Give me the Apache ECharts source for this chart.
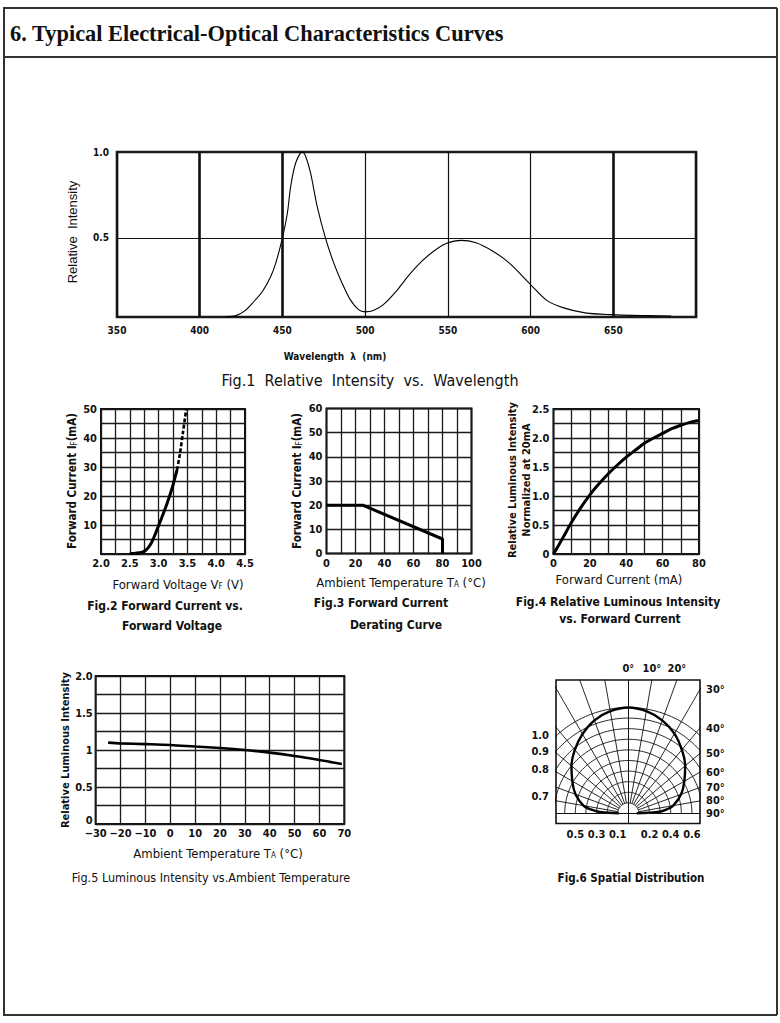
<!DOCTYPE html>
<html><head><meta charset="utf-8">
<script src="https://cdn.jsdelivr.net/npm/echarts@6/dist/echarts.min.js"></script>
<style>html,body{margin:0;padding:0;background:#fff}#c{width:780px;height:1023px}</style>
</head><body><div id="c"></div>
<script>
// ---------- Fig.1 Relative Intensity vs. Wavelength ----------
const fig1Wavelength = [415, 422, 427, 432, 438, 443, 446, 450, 453, 455, 458, 462, 464, 467, 471, 476, 481, 486, 491, 496, 500, 505, 511, 519, 526, 534, 542, 549, 558, 567, 577, 587, 600, 610, 620, 633, 648, 671, 685];
const fig1Intensity  = [0.04, 0.048, 0.074, 0.122, 0.19, 0.277, 0.355, 0.5, 0.645, 0.80, 0.936, 1.0, 0.975, 0.878, 0.684, 0.5, 0.355, 0.238, 0.141, 0.083, 0.07, 0.078, 0.112, 0.192, 0.278, 0.362, 0.427, 0.468, 0.486, 0.472, 0.424, 0.355, 0.229, 0.135, 0.093, 0.064, 0.054, 0.048, 0.046];
const fig1XTicks = [350, 400, 450, 500, 550, 600, 650];
const fig1YTicks = [0.5, 1.0];
const fig1BoldLines = [400, 450, 650];

// ---------- Fig.2 Forward Current vs. Forward Voltage ----------
const fig2VoltSolid = [2.5, 2.6, 2.7, 2.75, 2.8, 2.85, 2.9, 2.95, 3.0, 3.05, 3.1, 3.15, 3.2, 3.25, 3.32];
const fig2CurrSolid = [0.2, 0.3, 0.5, 0.9, 1.7, 3.0, 4.9, 7.3, 9.8, 12.3, 14.9, 17.6, 20.5, 23.8, 29.0];
const fig2VoltDash  = [3.32, 3.37, 3.42, 3.48];
const fig2CurrDash  = [29.0, 34.5, 41.5, 50];
const fig2XTicks = [2.0, 2.5, 3.0, 3.5, 4.0, 4.5];
const fig2YTicks = [10, 20, 30, 40, 50];

// ---------- Fig.3 Forward Current Derating Curve ----------
const fig3Temp = [0, 25, 80, 80];
const fig3Curr = [20, 20, 6, 0];
const fig3XTicks = [0, 20, 40, 60, 80, 100];
const fig3YTicks = [0, 10, 20, 30, 40, 50, 60];

// ---------- Fig.4 Relative Luminous Intensity vs. Forward Current ----------
const fig4Curr = [0, 5, 10, 15, 20, 25, 30, 35, 40, 45, 50, 55, 60, 65, 70, 75, 80];
const fig4Lum  = [0, 0.27, 0.55, 0.80, 1.02, 1.21, 1.38, 1.53, 1.67, 1.79, 1.91, 2.0, 2.08, 2.16, 2.22, 2.27, 2.30];
const fig4XTicks = [0, 20, 40, 60, 80];
const fig4YTicks = [0, 0.5, 1.0, 1.5, 2.0, 2.5];

// ---------- Fig.5 Luminous Intensity vs. Ambient Temperature ----------
const fig5Temp = [-25, -20, -10, 0, 10, 20, 30, 40, 50, 60, 69];
const fig5Lum  = [1.10, 1.09, 1.08, 1.068, 1.047, 1.027, 1.0, 0.964, 0.919, 0.865, 0.81];
const fig5XTicks = [-30, -20, -10, 0, 10, 20, 30, 40, 50, 60, 70];
const fig5YTicks = [0, 0.5, 1, 1.5, 2];
const fig5YTickLabels = ['0', '0.5', '1', '1.5', '2.0'];

// ---------- Fig.6 Spatial Distribution (angle from axis in deg, relative intensity) ----------
const fig6Angle = [-88, -87, -84, -80, -70, -60, -50, -40, -30, -20, -10, 0, 10, 20, 30, 40, 50, 60, 70, 80, 84, 87, 88];
const fig6Int   = [0.09, 0.27, 0.35, 0.43, 0.53, 0.61, 0.70, 0.785, 0.865, 0.935, 0.98, 1.0, 0.98, 0.935, 0.87, 0.785, 0.70, 0.61, 0.53, 0.43, 0.36, 0.28, 0.08];
const fig6CircleRadii = [0.1, 0.2, 0.3, 0.4, 0.5, 0.6, 0.7, 0.8, 0.9, 1.0];
const fig6RayAngles = [-80, -70, -60, -50, -40, -30, -20, -10, 10, 20, 30, 40, 50, 60, 70, 80];
const fig6TopAngles = [0, 10, 20];
const fig6RightAngles = [30, 40, 50, 60, 70, 80, 90];
const fig6LeftRadii = [1.0, 0.9, 0.8, 0.7];
const fig6BottomRadii = [-0.5, -0.3, -0.1, 0.2, 0.4, 0.6];

// ---------- styling ----------
const INK = '#111';
const COND = "'DejaVu Sans Condensed', 'DejaVu Sans', sans-serif";
const F6 = { xMin: -0.682, xMax: 0.676, yMin: -0.094, yMax: 1.259 };
const RAD = Math.PI / 180;
const toXY = (deg, r) => [r * Math.sin(deg * RAD), r * Math.cos(deg * RAD)];
const zip = (a, b) => a.map((v, i) => [v, b[i]]);

function tick(size, extra) {
  return Object.assign({ fontFamily: COND, fontWeight: 'bold', fontSize: size, color: INK }, extra || {});
}
const gridLine = { show: true, lineStyle: { color: '#1a1a1a', width: 1.3 } };
function valAxis(gi, min, max, interval, labels, extra) {
  return Object.assign({
    type: 'value', gridIndex: gi, min: min, max: max, interval: interval,
    axisLine: { show: false }, axisTick: { show: false }, splitLine: gridLine,
    axisLabel: tick(11, { customValues: labels, margin: 4 })
  }, extra || {});
}

const sweep = [];
for (let a = -90; a <= 90; a += 2) sweep.push(a);

const series = [];
// Fig1
series.push({
  type: 'line', xAxisIndex: 0, yAxisIndex: 0, data: zip(fig1Wavelength, fig1Intensity),
  smooth: 0.3, symbol: 'none', lineStyle: { color: '#000', width: 1.1 },
  markLine: {
    silent: true, symbol: ['none', 'none'], label: { show: false },
    lineStyle: { color: INK, type: 'solid', width: 2.6 },
    data: fig1BoldLines.map(x => ({ xAxis: x, lineStyle: { color: INK, type: 'solid', width: 2.6 } }))
      .concat([{ yAxis: 0.5, lineStyle: { color: INK, type: 'solid', width: 1.2 } }])
  }
});
// Fig2
series.push({ type: 'line', xAxisIndex: 1, yAxisIndex: 1, data: zip(fig2VoltSolid, fig2CurrSolid), smooth: 0.3, symbol: 'none', lineStyle: { color: '#000', width: 3 } });
series.push({ type: 'line', xAxisIndex: 1, yAxisIndex: 1, data: zip(fig2VoltDash, fig2CurrDash), smooth: 0.3, symbol: 'none', lineStyle: { color: '#000', width: 2.6, type: [4, 2] } });
// Fig3
series.push({ type: 'line', xAxisIndex: 2, yAxisIndex: 2, data: zip(fig3Temp, fig3Curr), symbol: 'none', lineStyle: { color: '#000', width: 3 } });
// Fig4
series.push({ type: 'line', xAxisIndex: 3, yAxisIndex: 3, data: zip(fig4Curr, fig4Lum), smooth: 0.3, symbol: 'none', lineStyle: { color: '#000', width: 3 } });
// Fig5
series.push({ type: 'line', xAxisIndex: 4, yAxisIndex: 4, data: zip(fig5Temp, fig5Lum), smooth: 0.3, symbol: 'none', lineStyle: { color: '#000', width: 2.6 } });
// Fig6 grid arcs and rays
fig6CircleRadii.forEach(r => series.push({
  type: 'line', xAxisIndex: 5, yAxisIndex: 5, data: sweep.map(a => toXY(a, r)), symbol: 'none', silent: true,
  clip: true, lineStyle: { color: INK, width: 0.9 }
}));
fig6RayAngles.forEach(a => series.push({
  type: 'line', xAxisIndex: 5, yAxisIndex: 5, data: [toXY(a, 0.1), toXY(a, 2)], symbol: 'none', silent: true,
  clip: true, lineStyle: { color: INK, width: 0.9 }
}));
series.push({
  type: 'line', xAxisIndex: 5, yAxisIndex: 5, data: fig6Angle.map((a, i) => toXY(a, fig6Int[i])),
  smooth: 0.4, symbol: 'none', clip: true, lineStyle: { color: '#000', width: 2.4 },
  markLine: {
    silent: true, symbol: ['none', 'none'], label: { show: false },
    lineStyle: { color: INK, type: 'solid', width: 1 },
    data: [{ xAxis: 0 }, { yAxis: 0 }]
  }
});

const deg = v => Math.round(v) + '°';
const option = {
  animation: false,
  backgroundColor: '#fff',
  grid: [
    { left: 117, top: 152, width: 579, height: 165, show: true, borderColor: '#1a1a1a', borderWidth: 2.6, backgroundColor: 'transparent' },
    { left: 101, top: 409, width: 144, height: 145, show: true, borderColor: INK, borderWidth: 2, backgroundColor: 'transparent' },
    { left: 326.5, top: 408.5, width: 145, height: 145, show: true, borderColor: INK, borderWidth: 2, backgroundColor: 'transparent' },
    { left: 553.5, top: 409, width: 145.5, height: 145, show: true, borderColor: INK, borderWidth: 2, backgroundColor: 'transparent' },
    { left: 95.7, top: 676, width: 248.6, height: 148, show: true, borderColor: INK, borderWidth: 2, backgroundColor: 'transparent' },
    { left: 556, top: 680, width: 144, height: 143.5, show: true, borderColor: INK, borderWidth: 1.6, backgroundColor: 'transparent' }
  ],
  xAxis: [
    valAxis(0, 350, 700, 50, fig1XTicks, { splitLine: { show: true, lineStyle: { color: INK, width: 1.2 } }, axisLabel: tick(10, { customValues: fig1XTicks, margin: 8 }) }),
    valAxis(1, 2, 4.5, 0.25, fig2XTicks, { axisLabel: tick(11, { customValues: fig2XTicks, margin: 4, formatter: v => v.toFixed(1) }) }),
    valAxis(2, 0, 100, 10, fig3XTicks),
    valAxis(3, 0, 80, 10, fig4XTicks),
    valAxis(4, -30, 70, 10, fig5XTicks, { axisLabel: tick(11, { customValues: fig5XTicks, margin: 4, formatter: v => v < 0 ? '\u2212' + (-v) : String(v) }) }),
    { type: 'value', gridIndex: 5, min: F6.xMin, max: F6.xMax, axisLine: { show: false }, axisTick: { show: false }, splitLine: { show: false },
      axisLabel: tick(11, { customValues: fig6BottomRadii, margin: 5, formatter: v => Math.abs(v).toFixed(1) }) },
    { type: 'value', gridIndex: 5, position: 'top', min: F6.xMin, max: F6.xMax, axisLine: { show: false }, axisTick: { show: false }, splitLine: { show: false },
      axisLabel: tick(11, { customValues: fig6TopAngles.map(a => F6.yMax * Math.tan(a * RAD)), margin: 6, formatter: v => deg(Math.atan(v / F6.yMax) / RAD) }) }
  ],
  yAxis: [
    valAxis(0, 0.04, 1.0, null, fig1YTicks, { splitLine: { show: false }, axisLabel: tick(10, { customValues: fig1YTicks, margin: 8, formatter: v => v.toFixed(1) }) }),
    valAxis(1, 0, 50, 5, fig2YTicks),
    valAxis(2, 0, 60, 10, fig3YTicks),
    valAxis(3, 0, 2.5, 0.25, fig4YTicks, { axisLabel: tick(11, { customValues: fig4YTicks, margin: 4, formatter: v => v === 0 ? '0' : v.toFixed(1) }) }),
    valAxis(4, 0, 2, 0.25, fig5YTicks, { axisLabel: tick(11, {
      customValues: fig5YTicks, margin: 3,
      formatter: v => v === 0 ? '{z|0}' : fig5YTickLabels[fig5YTicks.indexOf(v)],
      rich: { z: { fontFamily: COND, fontWeight: 'bold', fontSize: 11, color: INK, padding: [0, 0, 8, 0] } }
    }) }),
    { type: 'value', gridIndex: 5, min: F6.yMin, max: F6.yMax, axisLine: { show: false }, axisTick: { show: false }, splitLine: { show: false },
      axisLabel: tick(11, { customValues: fig6LeftRadii.map(r => Math.sqrt(r * r - F6.xMin * F6.xMin)), margin: 7, formatter: v => Math.sqrt(v * v + F6.xMin * F6.xMin).toFixed(1) }) },
    { type: 'value', gridIndex: 5, position: 'right', min: F6.yMin, max: F6.yMax, axisLine: { show: false }, axisTick: { show: false }, splitLine: { show: false },
      axisLabel: tick(11, { customValues: fig6RightAngles.map(a => a === 90 ? 0 : F6.xMax / Math.tan(a * RAD)), margin: 6, formatter: v => deg(Math.atan2(F6.xMax, v) / RAD) }) }
  ],
  series: series
};

// ---------- texts and frame ----------
const sub = { s: { fontSize: 8, verticalAlign: 'bottom', fontFamily: COND } };
function txt(x, y, text, o) {
  o = o || {};
  return {
    type: 'text', x: x, y: y, rotation: o.rot || 0, z: 100,
    style: {
      text: text, fill: INK, align: 'center', verticalAlign: 'middle',
      fontFamily: o.family || COND, fontWeight: o.bold ? 'bold' : 'normal', fontSize: o.size || 13,
      lineHeight: o.lh, rich: o.rich
    }
  };
}
const V = Math.PI / 2;
const line = (x1, y1, x2, y2) => ({ type: 'line', shape: { x1, y1, x2, y2 }, style: { stroke: '#333', lineWidth: 2 }, z: 100 });
option.graphic = [
  line(3, 8, 777, 8), line(3, 57, 777, 57), line(3, 1015, 777, 1015), line(4, 8, 4, 1015), line(777, 8, 777, 1015),
  { type: 'text', x: 10, y: 33, z: 100, style: { text: '6. Typical Electrical-Optical Characteristics Curves', fill: INK, verticalAlign: 'middle', fontFamily: "'Liberation Serif', 'Times New Roman', serif", fontWeight: 'bold', fontSize: 22.4 } },
  // Fig1
  txt(72, 232, 'Relative  Intensity', { rot: V, family: "'Liberation Sans', Arial, sans-serif", size: 13 }),
  txt(335, 356, 'Wavelength  \u03bb  (nm)', { bold: true, size: 10 }),
  txt(370, 380, 'Fig.1  Relative  Intensity  vs.  Wavelength', { size: 16 }),
  // Fig2
  txt(72, 481, 'Forward Current I{s|F}(mA)', { rot: V, bold: true, size: 11.5, rich: sub }),
  txt(178, 584, 'Forward Voltage V{s|F} (V)', { size: 13, rich: sub }),
  txt(165, 606, 'Fig.2 Forward Current vs.', { bold: true, size: 12 }),
  txt(172, 626, 'Forward Voltage', { bold: true, size: 12 }),
  // Fig3
  txt(297, 481, 'Forward Current I{s|F}(mA)', { rot: V, bold: true, size: 11.5, rich: sub }),
  txt(401, 582, 'Ambient Temperature T{s|A} (\u00b0C)', { size: 13, rich: sub }),
  txt(381, 603, 'Fig.3 Forward Current', { bold: true, size: 12 }),
  txt(396, 625, 'Derating Curve', { bold: true, size: 12 }),
  // Fig4
  txt(519, 480, 'Relative Luminous Intensity\nNormalized at 20mA', { rot: V, bold: true, size: 11, lh: 14 }),
  txt(619, 579, 'Forward Current (mA)', { size: 13 }),
  txt(618, 602, 'Fig.4 Relative Luminous Intensity', { bold: true, size: 12 }),
  txt(620, 619, 'vs. Forward Current', { bold: true, size: 12 }),
  // Fig5
  txt(65, 750, 'Relative Luminous Intensity', { rot: V, bold: true, size: 11 }),
  txt(218, 853, 'Ambient Temperature T{s|A} (\u00b0C)', { size: 13, rich: sub }),
  txt(211, 877, 'Fig.5 Luminous Intensity vs.Ambient Temperature', { size: 12.5 }),
  // Fig6
  txt(631, 878, 'Fig.6 Spatial Distribution', { bold: true, size: 11.5 })
];

const chart = echarts.init(document.getElementById('c'), null, { renderer: 'svg', width: 780, height: 1023 });
chart.setOption(option);
</script>
</body></html>
